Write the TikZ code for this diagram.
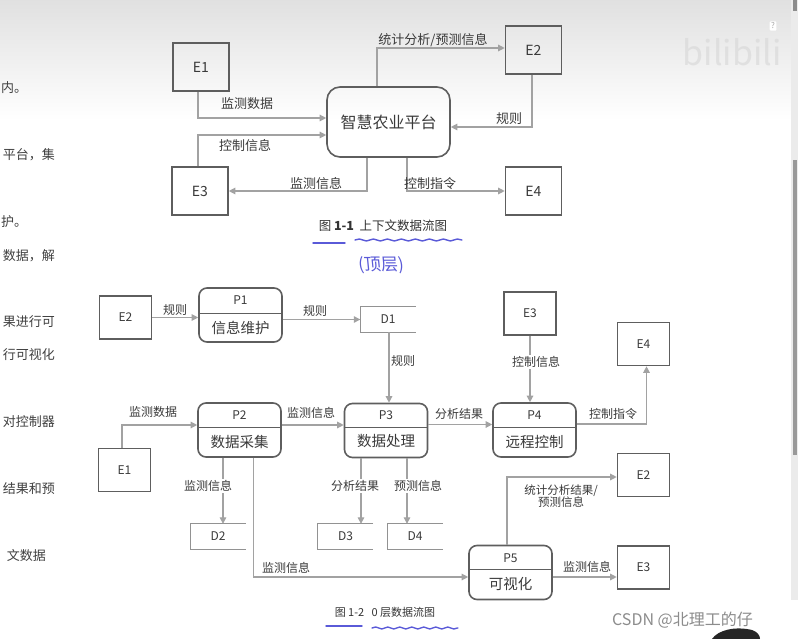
\documentclass[tikz,border=0pt]{standalone}
\usepackage{fontspec}
\setmainfont{Noto Sans CJK SC}
\usetikzlibrary{arrows.meta,decorations.pathmorphing}
\definecolor{boxc}{HTML}{5E5E5E}
\definecolor{linec}{HTML}{A2A2A2}
\definecolor{txtc}{HTML}{3A3A3A}
\definecolor{inkc}{HTML}{5A5AD8}
\begin{document}
\begin{tikzpicture}[x=1pt,y=-1pt,
  ent/.style={draw=boxc, line width=1.6pt, inner sep=0pt, text=txtc},
  ent1/.style={ent, minimum width=56pt, minimum height=48pt, font=\fontsize{14}{14}\selectfont},
  ent2/.style={ent, minimum width=52pt, minimum height=43pt, font=\fontsize{12}{12}\selectfont},
  proc/.style={draw=boxc, line width=1.6pt, rounded corners=8pt, inner sep=0pt, minimum width=83pt, minimum height=54pt},
  divline/.style={draw=boxc, line width=0.9pt},
  store/.style={inner sep=0pt, minimum width=55pt, minimum height=25pt, text=txtc, font=\fontsize{12}{12}\selectfont},
  storeline/.style={draw=linec!90!black, line width=1pt},
  flow/.style={draw=linec, line width=1.2pt, -{Triangle[length=6.5pt,width=6.5pt]}},
  lab/.style={text=txtc, font=\fontsize{13}{13}\selectfont, inner sep=1pt},
  labs/.style={text=txtc, font=\fontsize{12}{12}\selectfont, inner sep=1pt},
  labw/.style={labs, fill=white},
  ptxt/.style={text=txtc, font=\fontsize{12}{12}\selectfont, inner sep=0pt},
  pname/.style={text=txtc, font=\fontsize{14.5}{14.5}\selectfont, inner sep=0pt},
  margin/.style={text=black!75, font=\fontsize{13}{13}\selectfont, anchor=east, inner sep=0pt},
  captxt/.style={text=black!80, inner sep=0pt},
  ink/.style={draw=inkc, line width=1.4pt, line cap=round}
]
\useasboundingbox (0,0) rectangle (798,639);
\fill[white] (0,0) rectangle (798,639);
\shade[top color=black!12, bottom color=white] (0,0) rectangle (798,120);
% scroll bar
\fill[black!8] (791,0) rectangle (798,600);
\fill[black!45] (793,0) rectangle (797,11);
\fill[black!40] (793,160) rectangle (797,455);
% bilibili watermark
\node[text=black!16, opacity=0.6, font=\fontsize{34}{34}\selectfont, inner sep=0pt] (bili) at (732,52) {bilibili};
\node[fill=white, text=black!35, font=\fontsize{8}{8}\selectfont, inner sep=1.5pt, rounded corners=1pt] (qm) at (773,26) {?};

% left margin text fragments
\node[margin, anchor=west] (m1) at (1,88) {内。};
\node[margin] (m2) at (55,155) {平台，集};
\node[margin, anchor=west] (m3) at (1,222) {护。};
\node[margin] (m4) at (55,256) {数据，解};
\node[margin] (m5) at (55,322) {果进行可};
\node[margin] (m6) at (55,355) {行可视化};
\node[margin] (m7) at (55,422) {对控制器};
\node[margin] (m8) at (55,489) {结果和预};
\node[margin] (m9) at (46,556) {文数据};

% ================= Top: context diagram =================
\node[ent1] (E1) at (201,67) {E1};
\node[ent1] (E2) at (533.5,50) {E2};
\node[ent1] (E3) at (200,191) {E3};
\node[ent1] (E4) at (533.5,191) {E4};
\node[draw=boxc, line width=1.6pt, rounded corners=13pt, minimum width=123pt, minimum height=70pt, inner sep=0pt, text=txtc, font=\fontsize{16}{16}\selectfont] (C) at (388.5,122) {智慧农业平台};

\draw[flow] ([xshift=-3pt]E1.south) |- ([yshift=4pt]C.west);
\draw[flow] ([xshift=-2pt]E3.north) |- ([yshift=-13pt]C.west);
\draw[flow] ([xshift=-21.5pt]C.south) |- (E3.east);
\draw[flow] ([xshift=18.5pt]C.south) |- (E4.west);
\draw[flow] ([xshift=-11.5pt]C.north) |- ([yshift=2pt]E2.west);
\draw[flow] ([xshift=-1.5pt]E2.south) |- ([yshift=-5pt]C.east);

\node[lab] (l1) at (247,104) {监测数据};
\node[lab] (l2) at (245,146) {控制信息};
\node[lab] (l3) at (316,184) {监测信息};
\node[lab] (l4) at (430,184) {控制指令};
\node[lab] (l5) at (433,40) {统计分析/预测信息};
\node[lab] (l6) at (509,119) {规则};

\node[captxt, font=\fontsize{12.5}{12.5}\selectfont] (cap1) at (383,226) {图 \textbf{1-1}\ \ 上下文数据流图};
\draw[ink] (313,243) -- (345,243);
\draw[ink, decorate, decoration={snake, amplitude=1pt, segment length=14pt}] (355,240) -- (462,240);
\node[text=inkc, font=\fontsize{17}{17}\selectfont, inner sep=0pt, xslant=-0.1] (top) at (381,265) {(顶层)};

% ================= Bottom: level-0 diagram =================
\node[ent2] (E2b) at (125.5,317.5) {E2};
\node[ent2] (E1b) at (124.5,470) {E1};
\node[ent2] (E3b) at (530,313.5) {E3};
\node[ent2] (E4b) at (643.5,344) {E4};
\node[ent2] (E2c) at (643.5,475) {E2};
\node[ent2] (E3c) at (643.5,567.5) {E3};

\node[proc] (P1) at (240.5,315) {};
\node[proc] (P2) at (239.5,430) {};
\node[proc] (P3) at (386,430.5) {};
\node[proc] (P4) at (534.5,430) {};
\node[proc] (P5) at (510.5,572.5) {};

\draw[divline] (P1.west |- 0,313) -- (P1.east |- 0,313);
\draw[divline] (P2.west |- 0,427) -- (P2.east |- 0,427);
\draw[divline] (P3.west |- 0,427) -- (P3.east |- 0,427);
\draw[divline] (P4.west |- 0,427) -- (P4.east |- 0,427);
\draw[divline] (P5.west |- 0,569) -- (P5.east |- 0,569);

\node[ptxt] (P1a) at (240.5,300.5) {P1};
\node[pname] (P1b) at (240.5,327.5) {信息维护};
\node[ptxt] (P2a) at (239.5,415.5) {P2};
\node[pname] (P2b) at (239.5,441.5) {数据采集};
\node[ptxt] (P3a) at (386,415.5) {P3};
\node[pname] (P3b) at (386,441.5) {数据处理};
\node[ptxt] (P4a) at (534.5,415.5) {P4};
\node[pname] (P4b) at (534.5,441.5) {远程控制};
\node[ptxt] (P5a) at (510.5,558) {P5};
\node[pname] (P5b) at (510.5,584) {可视化};

\node[store] (D1) at (388,319.5) {D1};
\node[store] (D2) at (218,536.5) {D2};
\node[store] (D3) at (345.5,536.5) {D3};
\node[store] (D4) at (415,536.5) {D4};
\foreach \d in {D1,D2,D3,D4}
  \draw[storeline] (\d.north east) -- (\d.north west) -- (\d.south west) -- (\d.south east);

% flows
\draw[flow] (E2b.east) -- (E2b.east -| P1.west);
\draw[flow] (P1.east |- D1.west) -- (D1.west);
\draw[flow] ([xshift=1pt]D1.south) -- ([xshift=1pt]D1.south |- P3.north);
\draw[flow] ([xshift=-2.5pt]E1b.north) |- ([yshift=5pt]P2.west);
\draw[flow] ([yshift=5pt]P2.east) -- ([yshift=5pt]P2.east -| P3.west);
\draw[flow] ([yshift=6pt]P3.east) -- ([yshift=6pt]P3.east -| P4.west);
\draw[flow] (E3b.south) -- (E3b.south |- P4.north);
\draw[flow] ([yshift=6pt]P4.east) -| ([xshift=3pt]E4b.south);
\draw[flow] ([xshift=5pt]D2.north |- P2.south) -- ([xshift=5pt]D2.north);
\draw[flow] ([xshift=14pt]P2.south) |- ([yshift=-4.5pt]P5.west);
\draw[flow] ([xshift=15.5pt]D3.north |- P3.south) -- ([xshift=15.5pt]D3.north);
\draw[flow] ([xshift=-8pt]D4.north |- P3.south) -- ([xshift=-8pt]D4.north);
\draw[flow] ([xshift=-3.5pt]P5.north) |- ([yshift=-2pt]E2c.west);
\draw[flow] ([yshift=-4.5pt]P5.east) -- ([yshift=-4.5pt]P5.east -| E3c.west);

% labels
\node[labs] (b1) at (175,310) {规则};
\node[labs] (b2) at (315,311) {规则};
\node[labs, fill=white] (b3) at (403,361) {规则};
\node[labs] (b4) at (153,412) {监测数据};
\node[labs] (b5) at (311,413) {监测信息};
\node[labs] (b6) at (459,414) {分析结果};
\node[labw] (b7) at (536,362) {控制信息};
\node[labs] (b8) at (613,414) {控制指令};
\node[labw] (b9) at (208,486) {监测信息};
\node[labw] (b10) at (355,486) {分析结果};
\node[labw] (b11) at (418,486) {预测信息};
\node[labs] (b12) at (286,568) {监测信息};
\node[labs, align=center, font=\fontsize{11.5}{12.5}\selectfont] (b13) at (561,496) {统计分析结果/\\预测信息};
\node[labs] (b14) at (587,567) {监测信息};

\node[captxt, font=\fontsize{11}{11}\selectfont] (cap2) at (385,612) {图 1-2\ \ \ 0 层数据流图};
\draw[ink] (326,626) -- (362,626);
\draw[ink, decorate, decoration={snake, amplitude=1pt, segment length=12pt}] (372,628) -- (458,628);

% watermark and webcam blob
\node[text=black!45, font=\fontsize{16}{16}\selectfont, inner sep=0pt, anchor=west] (csdn) at (612,620) {CSDN @北理工的仔};
\fill[black!85] (712,639) .. controls (718,630) and (735,626) .. (752,630) .. controls (758,632) and (760,636) .. (760,639) -- cycle;
\end{tikzpicture}
\end{document}
